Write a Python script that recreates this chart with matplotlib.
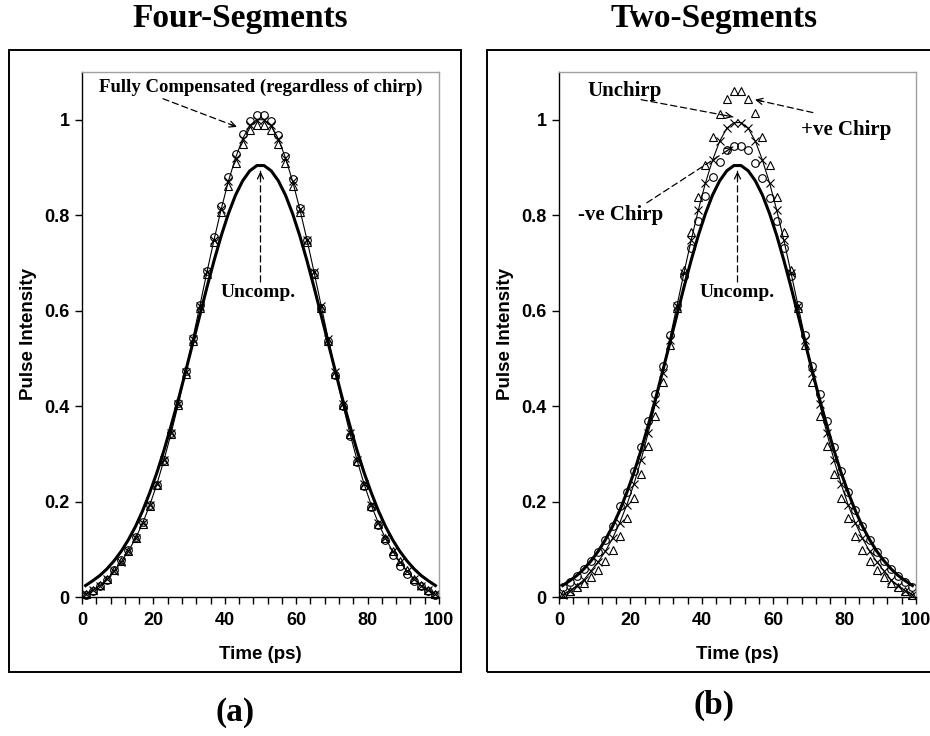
import matplotlib
matplotlib.use('Agg')
import matplotlib.pyplot as plt
from matplotlib.patches import Rectangle

# ---------------- data ----------------
t = list(range(1, 100, 2))

uncomp = [0.024, 0.034, 0.045, 0.059, 0.076, 0.096, 0.120, 0.148, 0.181, 0.219,
          0.261, 0.308, 0.360, 0.414, 0.472, 0.531, 0.590, 0.649, 0.705, 0.757,
          0.803, 0.842, 0.872, 0.893, 0.904,
          0.904, 0.893, 0.872, 0.842, 0.803, 0.757, 0.705, 0.649, 0.590, 0.531,
          0.472, 0.414, 0.360, 0.308, 0.261, 0.219, 0.181, 0.148, 0.120, 0.096,
          0.076, 0.059, 0.045, 0.034, 0.024]

# (a) Four-Segments: fully compensated, three chirp cases
a_unchirp = [0.006, 0.014, 0.024, 0.037, 0.055, 0.074, 0.096, 0.123, 0.155, 0.193,
             0.237, 0.288, 0.344, 0.405, 0.471, 0.540, 0.610, 0.681, 0.749, 0.813,
             0.871, 0.920, 0.960, 0.988, 1.000,
             1.000, 0.988, 0.960, 0.920, 0.871, 0.813, 0.749, 0.681, 0.610, 0.540,
             0.471, 0.405, 0.344, 0.288, 0.237, 0.193, 0.155, 0.123, 0.096, 0.074,
             0.055, 0.037, 0.024, 0.014, 0.006]
a_negchirp = [0.005, 0.013, 0.023, 0.035, 0.057, 0.078, 0.098, 0.126, 0.158, 0.192,
              0.235, 0.287, 0.344, 0.406, 0.473, 0.542, 0.612, 0.684, 0.754, 0.820,
              0.880, 0.928, 0.971, 0.998, 1.010,
              1.010, 0.998, 0.969, 0.925, 0.876, 0.815, 0.748, 0.678, 0.606, 0.536,
              0.466, 0.400, 0.338, 0.282, 0.232, 0.188, 0.150, 0.119, 0.088, 0.064,
              0.048, 0.034, 0.023, 0.013, 0.005]
a_poschirp = [0.006, 0.014, 0.025, 0.038, 0.056, 0.075, 0.097, 0.124, 0.153, 0.190,
              0.234, 0.285, 0.341, 0.402, 0.468, 0.537, 0.606, 0.676, 0.743, 0.806,
              0.862, 0.910, 0.950, 0.978, 0.990,
              0.990, 0.978, 0.950, 0.910, 0.862, 0.806, 0.743, 0.676, 0.606, 0.537,
              0.468, 0.402, 0.341, 0.285, 0.234, 0.190, 0.153, 0.124, 0.097, 0.075,
              0.056, 0.038, 0.025, 0.014, 0.006]

# (b) Two-Segments
b_unchirp = [0.005, 0.013, 0.024, 0.036, 0.055, 0.074, 0.096, 0.123, 0.155, 0.193,
             0.237, 0.288, 0.344, 0.405, 0.470, 0.539, 0.609, 0.679, 0.747, 0.810,
             0.867, 0.915, 0.955, 0.982, 0.994,
             0.994, 0.982, 0.955, 0.915, 0.867, 0.810, 0.747, 0.679, 0.609, 0.539,
             0.470, 0.405, 0.344, 0.288, 0.237, 0.193, 0.155, 0.123, 0.096, 0.074,
             0.055, 0.036, 0.024, 0.013, 0.005]
b_poschirp = [0.006, 0.013, 0.021, 0.030, 0.041, 0.056, 0.075, 0.099, 0.128, 0.165,
              0.208, 0.258, 0.316, 0.380, 0.451, 0.527, 0.606, 0.685, 0.764, 0.839,
              0.906, 0.964, 1.012, 1.043, 1.060,
              1.060, 1.043, 1.014, 0.964, 0.906, 0.839, 0.764, 0.685, 0.606, 0.527,
              0.451, 0.380, 0.316, 0.258, 0.208, 0.165, 0.128, 0.099, 0.075, 0.056,
              0.041, 0.030, 0.021, 0.013, 0.004]
b_negchirp = [0.022, 0.032, 0.044, 0.058, 0.075, 0.095, 0.120, 0.149, 0.190, 0.221,
              0.265, 0.314, 0.368, 0.425, 0.485, 0.548, 0.611, 0.673, 0.732, 0.787,
              0.840, 0.880, 0.912, 0.936, 0.946,
              0.946, 0.936, 0.910, 0.878, 0.836, 0.787, 0.732, 0.673, 0.611, 0.548,
              0.485, 0.425, 0.368, 0.314, 0.265, 0.221, 0.182, 0.149, 0.120, 0.095,
              0.075, 0.058, 0.044, 0.032, 0.020]

xticks = [0, 20, 40, 60, 80, 100]
yticks = [0, 0.2, 0.4, 0.6, 0.8, 1.0]
yticklabels = ['0', '0.2', '0.4', '0.6', '0.8', '1']

# ---------------- figure ----------------
W, H = 930, 736
fig = plt.figure(figsize=(W / 100, H / 100), dpi=100)

SANS = 'Liberation Sans'
SERIF = 'Liberation Serif'


def fx(px):
    return px / W


def fy(py):
    return 1 - py / H


# outer chart boxes
fig.add_artist(Rectangle((fx(9), fy(672)), fx(461) - fx(9), fy(50) - fy(672),
                         transform=fig.transFigure, fill=False, lw=1.4, ec='black'))
fig.add_artist(Rectangle((fx(487), fy(672)), fx(940) - fx(487), fy(50) - fy(672),
                         transform=fig.transFigure, fill=False, lw=1.4, ec='black'))


def make_axes(left_px):
    ax = fig.add_axes([fx(left_px), fy(597), fx(357), (597 - 72) / H])
    ax.set_xlim(0, 100)
    ax.set_ylim(0, 1.1)
    for s in ['top', 'right']:
        ax.spines[s].set_color('#a0a0a0')
        ax.spines[s].set_linewidth(1.0)
    for s in ['left', 'bottom']:
        ax.spines[s].set_color('black')
        ax.spines[s].set_linewidth(1.0)
    ax.set_xticks(xticks)
    ax.set_xticks(list(range(0, 101, 4)), minor=True)
    ax.set_yticks(yticks)
    ax.set_xticklabels([str(v) for v in xticks], fontfamily=SANS,
                       fontweight='bold', fontsize=13)
    ax.set_yticklabels(yticklabels, fontfamily=SANS, fontweight='bold', fontsize=13)
    ax.tick_params(axis='both', which='both', direction='out', length=5, width=1,
                   color='black')
    ax.tick_params(axis='x', which='major', pad=6)
    ax.tick_params(axis='y', which='major', pad=4)
    ax.set_xlabel('Time (ps)', fontfamily=SANS, fontweight='bold', fontsize=13.5)
    ax.xaxis.set_label_coords(0.5, -0.093)
    ax.set_ylabel('Pulse Intensity', fontfamily=SANS, fontweight='bold', fontsize=13.5)
    return ax


mk = dict(linestyle='none', markerfacecolor='none', markeredgecolor='black',
          markeredgewidth=0.8, markersize=5.5, clip_on=False)


def dashed_arrow(ax, start, tip):
    ax.annotate('', xy=tip, xytext=start,
                arrowprops=dict(arrowstyle='-', linestyle=(0, (5, 3)), lw=0.9,
                                color='black', shrinkA=0, shrinkB=0))
    p1 = ax.transData.transform(start)
    p2 = ax.transData.transform(tip)
    d = p2 - p1
    d = d / (d ** 2).sum() ** 0.5
    back = ax.transData.inverted().transform(p2 - 7 * d)
    ax.annotate('', xy=tip, xytext=tuple(back),
                arrowprops=dict(arrowstyle='->,head_length=0.45,head_width=0.22',
                                lw=0.9, color='black', shrinkA=0, shrinkB=0))


# ---------- panel (a) ----------
axa = make_axes(82)
axa.yaxis.set_label_coords(-0.125, 0.5)
axa.plot(t, uncomp, color='black', lw=2.2)
axa.plot(t, a_unchirp, color='black', lw=0.8)
axa.plot(t, a_negchirp, marker='o', **mk)
axa.plot(t, a_poschirp, marker='^', **mk)
axa.plot(t, a_unchirp, marker='x', **mk)
axa.text(50, 1.067, 'Fully Compensated (regardless of chirp)', ha='center',
         va='center', fontfamily=SERIF, fontweight='bold', fontsize=13.5)
dashed_arrow(axa, (22.7, 1.044), (43.4, 0.985))
axa.text(49.4, 0.637, 'Uncomp.', ha='center', va='center', fontfamily=SERIF,
         fontweight='bold', fontsize=14)
dashed_arrow(axa, (50, 0.66), (50, 0.892))

# ---------- panel (b) ----------
axb = make_axes(559)
axb.yaxis.set_label_coords(-0.126, 0.5)
axb.plot(t, uncomp, color='black', lw=2.2)
axb.plot(t, b_unchirp, color='black', lw=0.8)
axb.plot(t, b_negchirp, marker='o', **mk)
axb.plot(t, b_poschirp, marker='^', **mk)
axb.plot(t, b_unchirp, marker='x', **mk)
axb.text(18.5, 1.061, 'Unchirp', ha='center', va='center', fontfamily=SERIF,
         fontweight='bold', fontsize=15)
dashed_arrow(axb, (23.0, 1.042), (48.7, 1.006))
axb.text(80.4, 0.979, '+ve Chirp', ha='center', va='center', fontfamily=SERIF,
         fontweight='bold', fontsize=15)
dashed_arrow(axb, (71.1, 1.015), (54.9, 1.042))
axb.text(17.4, 0.801, '-ve Chirp', ha='center', va='center', fontfamily=SERIF,
         fontweight='bold', fontsize=15)
dashed_arrow(axb, (24.6, 0.826), (48.7, 0.943))
axb.text(49.9, 0.637, 'Uncomp.', ha='center', va='center', fontfamily=SERIF,
         fontweight='bold', fontsize=14)
dashed_arrow(axb, (50, 0.66), (50, 0.892))

# titles and panel labels
fig.text(fx(240), fy(19), 'Four-Segments', ha='center', va='center',
         fontfamily=SERIF, fontweight='bold', fontsize=24)
fig.text(fx(714), fy(19), 'Two-Segments', ha='center', va='center',
         fontfamily=SERIF, fontweight='bold', fontsize=24)
fig.text(fx(235), fy(713), '(a)', ha='center', va='center',
         fontfamily=SERIF, fontweight='bold', fontsize=24)
fig.text(fx(714), fy(705), '(b)', ha='center', va='center',
         fontfamily=SERIF, fontweight='bold', fontsize=24)

fig.savefig('out.png', dpi=100)
